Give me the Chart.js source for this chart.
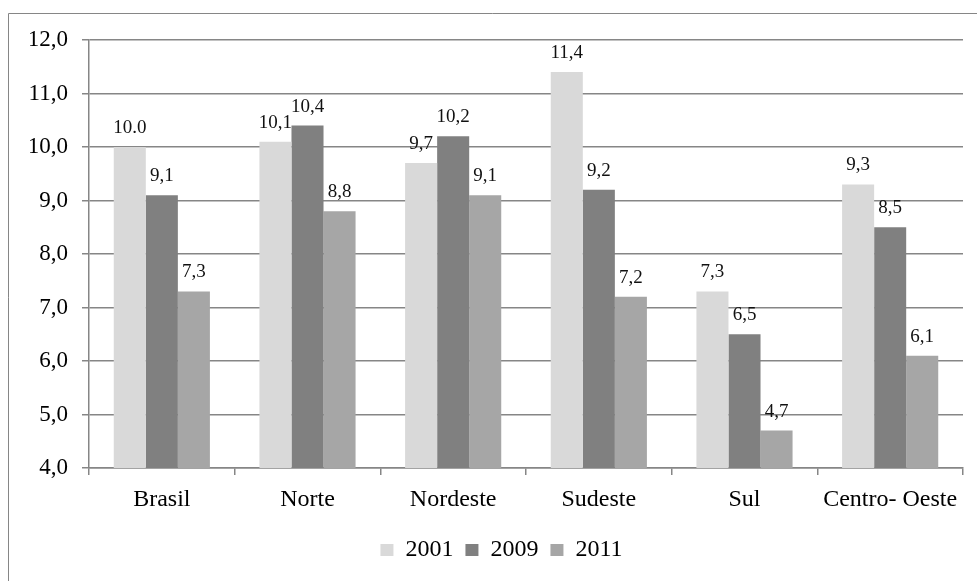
<!DOCTYPE html>
<html>
<head>
<meta charset="utf-8">
<script src="https://cdn.jsdelivr.net/npm/chart.js@4/dist/chart.umd.min.js"></script>
<style>
  html, body { margin: 0; padding: 0; background: #ffffff; }
  #wrap { width: 977px; height: 581px; position: relative; }
</style>
</head>
<body>
<div id="wrap"><canvas id="chart" width="977" height="581"></canvas></div>
<script>
// Regions and yearly values
const regions = ['Brasil', 'Norte', 'Nordeste', 'Sudeste', 'Sul', 'Centro- Oeste'];
const years = ['2001', '2009', '2011'];
const values2001 = [10.0, 10.1, 9.7, 11.4, 7.3, 9.3];
const values2009 = [9.1, 10.4, 10.2, 9.2, 6.5, 8.5];
const values2011 = [7.3, 8.8, 9.1, 7.2, 4.7, 6.1];
const yTicks = [4, 5, 6, 7, 8, 9, 10, 11, 12];
// the Brasil 2001 label is printed with a point as decimal separator
const pointDecimal = { 0: [0] };

const seriesColors = ['#d9d9d9', '#808080', '#a6a6a6'];
const lineColor = '#868686';
const serif = '"Liberation Serif", "Times New Roman", serif';

function fmtComma(v) { return v.toFixed(1).replace('.', ','); }
function labelText(ds, i, v) {
  const p = pointDecimal[ds];
  return (p && p.includes(i)) ? v.toFixed(1) : fmtComma(v);
}

// Value labels above each bar
const valueLabels = {
  id: 'valueLabels',
  afterDatasetsDraw(chart) {
    const ctx = chart.ctx;
    ctx.save();
    ctx.font = '19px ' + serif;
    ctx.fillStyle = '#111111';
    ctx.textAlign = 'center';
    ctx.textBaseline = 'alphabetic';
    chart.data.datasets.forEach((ds, d) => {
      const meta = chart.getDatasetMeta(d);
      meta.data.forEach((bar, i) => {
        ctx.fillText(labelText(d, i, ds.data[i]), bar.x, bar.y - 14);
      });
    });
    ctx.restore();
  }
};

// Outer frame (left and top edges)
const frame = {
  id: 'frame',
  beforeDraw(chart) {
    const ctx = chart.ctx;
    ctx.save();
    ctx.strokeStyle = lineColor;
    ctx.lineWidth = 1;
    ctx.beginPath();
    ctx.moveTo(8.5, 581);
    ctx.lineTo(8.5, 13.5);
    ctx.lineTo(977, 13.5);
    ctx.stroke();
    ctx.restore();
  }
};

new Chart(document.getElementById('chart'), {
  type: 'bar',
  data: {
    labels: regions,
    datasets: [
      { label: years[0], data: values2001, backgroundColor: seriesColors[0] },
      { label: years[1], data: values2009, backgroundColor: seriesColors[1] },
      { label: years[2], data: values2011, backgroundColor: seriesColors[2] }
    ]
  },
  options: {
    responsive: false,
    animation: false,
    devicePixelRatio: 1,
    layout: { padding: { left: 30, right: 4, top: 40, bottom: 9 } },
    datasets: { bar: { categoryPercentage: 0.66, barPercentage: 1.0, borderWidth: 0 } },
    scales: {
      x: {
        grid: { drawOnChartArea: false, drawTicks: true, tickLength: 7, color: lineColor, lineWidth: 1.5 },
        border: { display: true, color: lineColor, width: 1.5 },
        ticks: { color: '#000000', font: { family: serif, size: 24 }, padding: 10, maxRotation: 0, autoSkip: false },
        afterFit(scale) { scale.height = 58; }
      },
      y: {
        min: 4, max: 12,
        afterBuildTicks(scale) { scale.ticks = yTicks.map(v => ({ value: v })); },
        grid: { color: lineColor, lineWidth: 1.5, tickLength: 7, drawTicks: true },
        border: { display: true, color: lineColor, width: 1.5 },
        ticks: { color: '#000000', font: { family: serif, size: 23 }, padding: 14, callback: v => fmtComma(v) },
        afterFit(scale) { scale.width = 59; }
      },
      spacer: {
        position: 'right',
        grid: { display: false },
        border: { display: false },
        ticks: { display: false },
        afterFit(scale) { scale.width = 10; }
      }
    },
    plugins: {
      legend: {
        position: 'bottom',
        labels: {
          color: '#000000',
          font: { family: serif, size: 24 },
          boxWidth: 13,
          boxHeight: 12,
          padding: 12
        }
      },
      tooltip: { enabled: false }
    }
  },
  plugins: [valueLabels, frame]
});
</script>
</body>
</html>
